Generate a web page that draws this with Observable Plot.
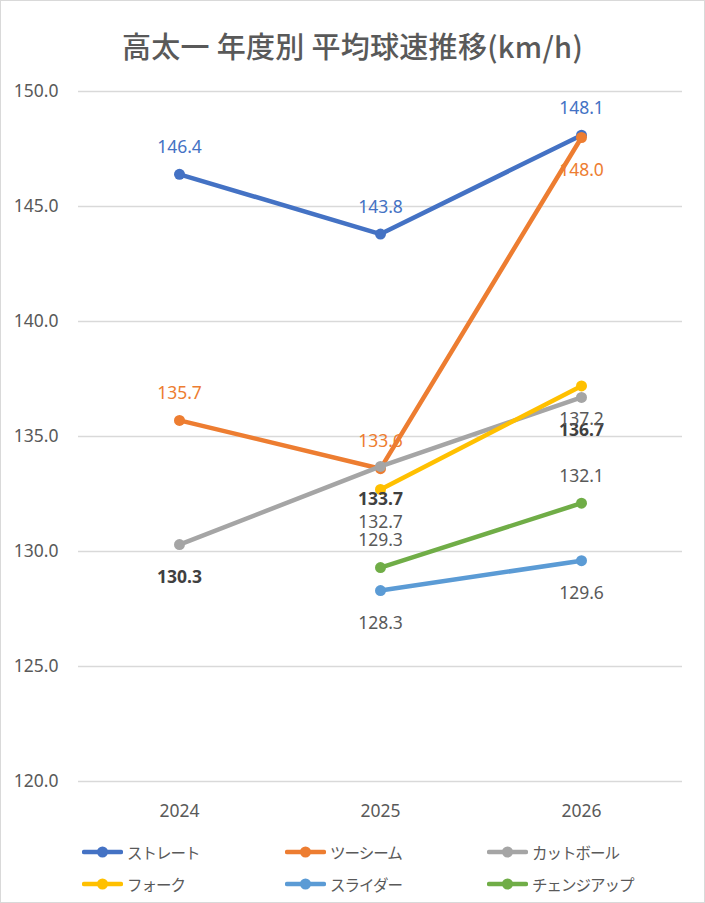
<!DOCTYPE html>
<html>
<head>
<meta charset="utf-8">
<script src="https://cdn.jsdelivr.net/npm/d3@7"></script>
<script src="https://cdn.jsdelivr.net/npm/@observablehq/plot@0.6"></script>
<style>
  html, body { margin: 0; padding: 0; background: #fff; }
  #wrap {
    position: relative; width: 705px; height: 903px; box-sizing: border-box;
    border: 1px solid #d9d9d9; background: #fff; overflow: hidden;
    font-family: "Noto Sans", "Noto Sans CJK JP", sans-serif; color: #595959;
  }
  #title {
    position: absolute; left: 0; right: 0; top: 28px; text-align: center;
    font-family: "Noto Sans CJK JP", sans-serif; font-size: 29px; line-height: 32px;
    color: #595959; font-weight: 500; letter-spacing: 0.3px;
  }
  #chart { position: absolute; left: 0; top: 69px; }
  .item { position: absolute; display: flex; align-items: center; height: 20px;
    font-family: "Noto Sans CJK JP", sans-serif; font-size: 15.5px; letter-spacing: -1px; color: #595959; }
  .item svg { margin-right: 4px; }
</style>
</head>
<body>
<div id="wrap">
  <div id="title">高太一 年度別 平均球速推移(km/h)</div>
  <div id="chart"></div>
  <div id="legend"></div>
</div>
<script>
// ---- data ----
const years = ["2024", "2025", "2026"];
const pitches = ["ストレート", "ツーシーム", "カットボール", "フォーク", "スライダー", "チェンジアップ"];
const straight = [146.4, 143.8, 148.1];
const twoSeam  = [135.7, 133.6, 148.0];
const cutter   = [130.3, 133.7, 136.7];
const fork     = [null, 132.7, 137.2];
const slider   = [null, 128.3, 129.6];
const changeup = [null, 129.3, 132.1];
const yTicks = [120, 125, 130, 135, 140, 145, 150];

// ---- presentation ----
const seriesValues = [straight, twoSeam, cutter, fork, slider, changeup];
const colors = ["#4472C4", "#ED7D31", "#A5A5A5", "#FFC000", "#5B9BD5", "#70AD47"];
const labelColors = ["#4472C4", "#ED7D31", "#404040", "#595959", "#595959", "#595959"];
const labelWeights = ["normal", "normal", "bold", "normal", "normal", "normal"];
const labelSide = [
  ["above", "above", "above"],
  ["above", "above", "below"],
  ["below", "below", "below"],
  ["below", "below", "below"],
  ["below", "below", "below"],
  ["above", "above", "above"]
];

const rows = [];
seriesValues.forEach((vals, i) => {
  vals.forEach((v, j) => {
    if (v != null) rows.push({pitch: pitches[i], idx: i, year: years[j], value: v, side: labelSide[i][j]});
  });
});

const marks = [
  Plot.ruleY(yTicks, {stroke: "#d9d9d9", strokeWidth: 1.3}),
  Plot.axisY({ticks: yTicks, tickFormat: d3.format(".1f"), tickSize: 0, tickPadding: 20, label: null}),
  Plot.axisX({tickSize: 0, tickPadding: 23, label: null})
];
pitches.forEach((p, i) => {
  const d = rows.filter(r => r.idx === i);
  marks.push(Plot.line(d, {x: "year", y: "value", stroke: colors[i], strokeWidth: 4.5, strokeLinecap: "round"}));
  marks.push(Plot.dot(d, {x: "year", y: "value", fill: colors[i], r: 5.5}));
});
pitches.forEach((p, i) => {
  ["above", "below"].forEach(side => {
    const d = rows.filter(r => r.idx === i && r.side === side);
    if (!d.length) return;
    marks.push(Plot.text(d, {
      x: "year", y: "value", text: r => r.value.toFixed(1),
      dy: side === "above" ? -27 : 33,
      fill: labelColors[i], fontWeight: labelWeights[i], fontSize: 17.5
    }));
  });
});

const chart = Plot.plot({
  width: 703,
  height: 760,
  marginLeft: 77,
  marginRight: 22,
  marginTop: 21,
  marginBottom: 49,
  style: {fontFamily: "'Noto Sans', 'Noto Sans CJK JP', sans-serif", fontSize: "17.5px", color: "#595959", background: "transparent"},
  x: {type: "point", domain: years, padding: 0.5},
  y: {domain: [120, 150]},
  marks
});
document.getElementById("chart").appendChild(chart);

// ---- legend ----
const legend = document.getElementById("legend");
const colX = [81, 284, 486];
const rowY = [841, 873];
pitches.forEach((p, i) => {
  const el = document.createElement("div");
  el.className = "item";
  el.style.left = colX[i % 3] + "px";
  el.style.top = rowY[Math.floor(i / 3)] + "px";
  el.innerHTML = `<svg width="41" height="20"><line x1="2" x2="39" y1="10" y2="10" stroke="${colors[i]}" stroke-width="4.5" stroke-linecap="round"/><circle cx="20.5" cy="10" r="5.5" fill="${colors[i]}"/></svg><span>${p}</span>`;
  legend.appendChild(el);
});
</script>
</body>
</html>
